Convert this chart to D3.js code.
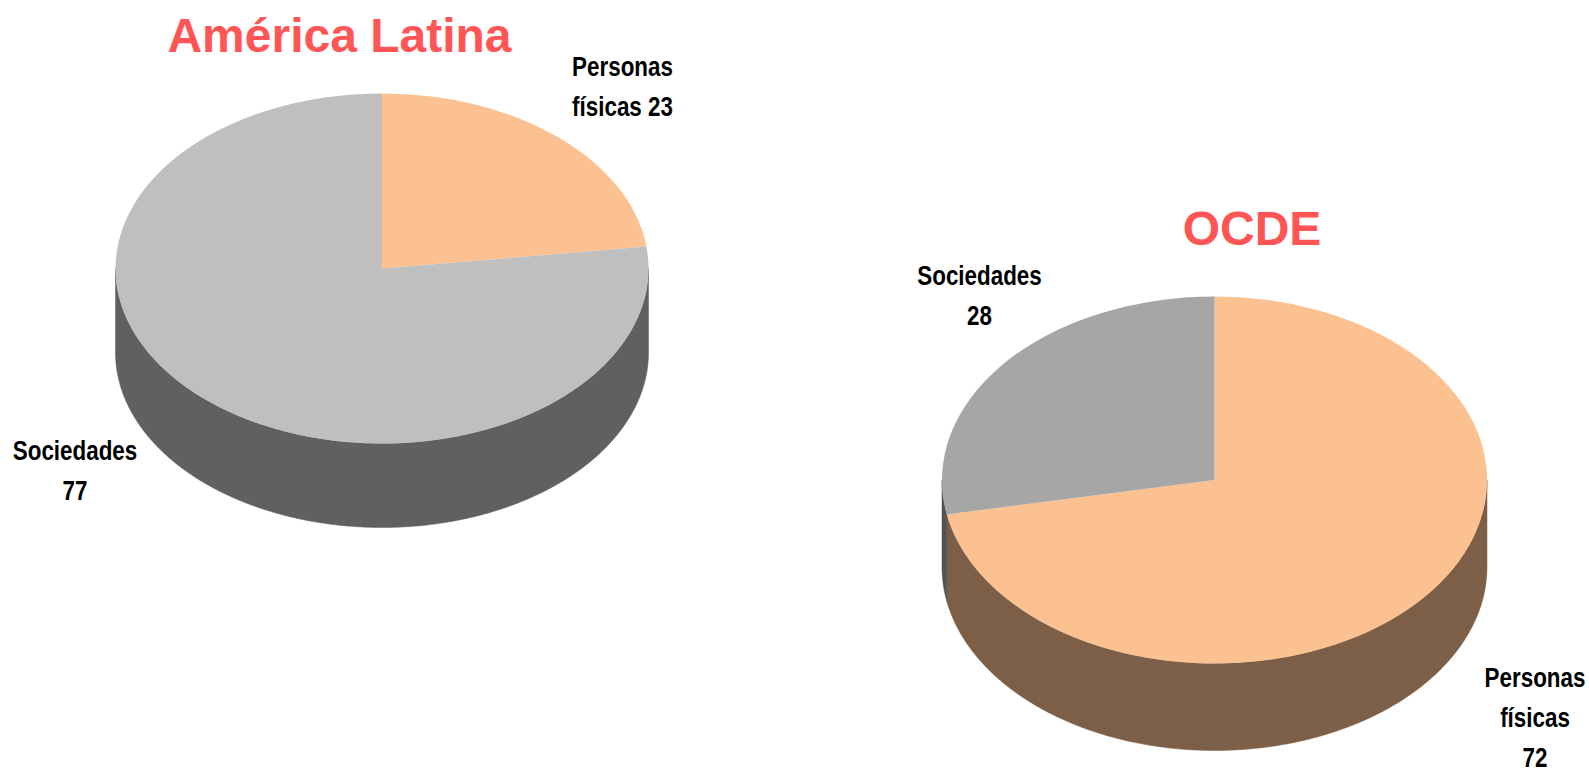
<!DOCTYPE html>
<html><head><meta charset="utf-8">
<script src="https://cdnjs.cloudflare.com/ajax/libs/d3/7.8.5/d3.min.js"></script>
<style>html,body{margin:0;background:#fff;overflow:hidden}svg{display:block}
text{font-family:"Liberation Sans",Arial,sans-serif;font-weight:bold}</style></head>
<body><svg id="c" width="1589" height="770"></svg>
<script>
const categoriesAL = ["Personas físicas", "Sociedades"];
const valuesAL = [23, 77];
const categoriesOCDE = ["Personas físicas", "Sociedades"];
const valuesOCDE = [72, 28];
const svg = d3.select("#c");
const PEACH="#fbc191", RED="#ff5555";

function pie3d(cfg){
  const {title,cats,vals,cx,cy,rx,ry,depth,top,side,labels,titlePos}=cfg;
  const g=svg.append("g");
  const arcs=d3.pie().sort(null)(vals);
  const ptX=d3.scaleLinear().domain([-1,1]).range([cx-rx,cx+rx]);
  const ptY=d3.scaleLinear().domain([-1,1]).range([cy-ry,cy+ry]);
  const line=d3.line();
  // walls: the part of each slice's rim facing the viewer (angle between π/2 and 3π/2)
  arcs.forEach((a,i)=>{
    const s=Math.max(a.startAngle,Math.PI/2), e=Math.min(a.endAngle,Math.PI*1.5);
    if(e<=s) return;
    const n=Math.ceil((e-s)/0.01);
    const ang=d3.range(n+1).map(k=>s+(e-s)*k/n);
    const upper=ang.map(t=>[ptX(Math.sin(t)),ptY(-Math.cos(t))]);
    const lower=ang.slice().reverse().map(t=>[ptX(Math.sin(t)),ptY(-Math.cos(t))+depth]);
    g.append("path").attr("d",line(upper.concat(lower))+"Z").attr("fill",side[i]).attr("stroke",side[i]).attr("stroke-width",0.5);
  });
  // top faces
  const arc=d3.arc().innerRadius(0).outerRadius(rx);
  g.selectAll("path.top").data(arcs).join("path").attr("class","top")
    .attr("transform",`translate(${cx},${cy}) scale(1,${ry/rx})`)
    .attr("d",arc).attr("fill",(d,i)=>top[i]);
  // title
  svg.append("text").attr("x",titlePos[0]).attr("y",titlePos[1]).attr("text-anchor","middle")
    .attr("font-size",48).attr("fill",RED).text(title);
  // labels
  labels.forEach(l=>{
    const lines=l.lines(cats[l.i],vals[l.i]);
    lines.forEach((t,k)=>{
      svg.append("text")
        .attr("transform",`translate(${l.x},${l.y+k*l.dy}) scale(0.8,1)`)
        .attr("text-anchor","middle").attr("font-size",28).attr("fill","#000").text(t);
    });
  });
}

pie3d({title:"América Latina",cats:categoriesAL,vals:valuesAL,cx:382,cy:268.5,rx:266.5,ry:175,depth:84,
  top:[PEACH,"#bfbfbf"],side:["#7d5f47","#606060"],titlePos:[339.5,52],
  labels:[
   {i:0,x:622.5,y:76,dy:40,lines:(c,v)=>["Personas","físicas "+v]},
   {i:1,x:75,y:460,dy:40,lines:(c,v)=>[c,""+v]}
  ]});
pie3d({title:"OCDE",cats:categoriesOCDE,vals:valuesOCDE,cx:1214.5,cy:480,rx:272.5,ry:183.5,depth:87,
  top:[PEACH,"#a6a6a6"],side:["#7d5f47","#535353"],titlePos:[1252,245],
  labels:[
   {i:1,x:979.5,y:285,dy:40,lines:(c,v)=>[c,""+v]},
   {i:0,x:1535,y:687,dy:40,lines:(c,v)=>["Personas","físicas",""+v]}
  ]});
</script></body></html>
